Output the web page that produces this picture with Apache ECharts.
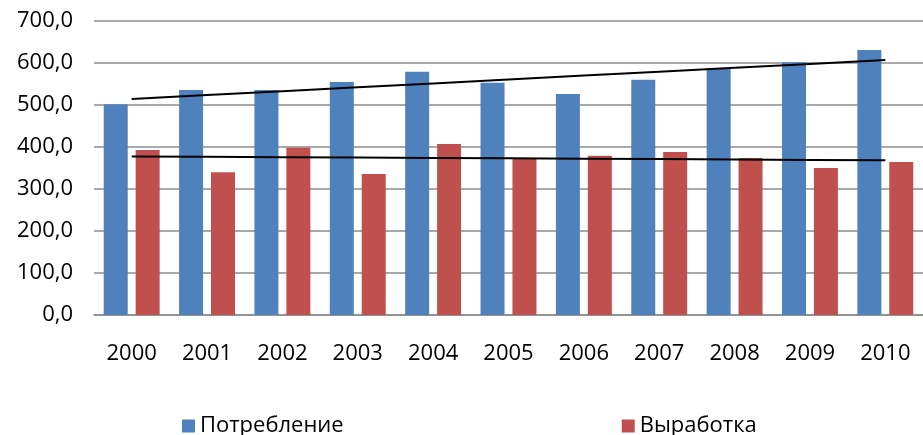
<!DOCTYPE html>
<html>
<head>
<meta charset="utf-8">
<script src="https://cdn.jsdelivr.net/npm/echarts@6/dist/echarts.min.js"></script>
<style>html,body{margin:0;padding:0;background:#fff}#c{width:923px;height:435px}</style>
</head>
<body>
<div id="c"></div>
<script>
const years = ['2000','2001','2002','2003','2004','2005','2006','2007','2008','2009','2010'];
const consumption = [502, 536, 536, 555, 579, 553, 526, 560, 588, 602, 631];
const production = [393, 340, 398, 336, 407, 374, 379, 388, 374, 350, 364];
const yTicks = [0, 100, 200, 300, 400, 500, 600, 700];

// linear (least-squares) trend lines, as in the original chart
function trend(vals) {
  const n = vals.length;
  let sx = 0, sy = 0, sxx = 0, sxy = 0;
  vals.forEach((v, i) => { sx += i; sy += v; sxx += i * i; sxy += i * v; });
  const b = (n * sxy - sx * sy) / (n * sxx - sx * sx);
  const a = (sy - b * sx) / n;
  return vals.map((_, i) => a + b * i);
}

const font = 'Open Sans';
const chart = echarts.init(document.getElementById('c'));
chart.setOption({
  animation: false,
  textStyle: { fontFamily: font },
  grid: { left: 94, right: 0, top: 21, bottom: 120, containLabel: false },
  legend: {
    data: ['Потребление', 'Выработка'],
    left: 177, top: 410,
    icon: 'rect', itemWidth: 13, itemHeight: 13, itemGap: 278,
    textStyle: { fontSize: 22, color: '#000', fontFamily: font }
  },
  xAxis: {
    type: 'category', data: years,
    axisLine: { lineStyle: { color: '#8c8c8c', width: 1.5 } },
    axisTick: { show: false },
    axisLabel: { fontSize: 22, color: '#000', margin: 28, fontFamily: font }
  },
  yAxis: {
    type: 'value', min: yTicks[0], max: yTicks[yTicks.length - 1], interval: 100,
    axisLine: { show: false }, axisTick: { show: false },
    splitLine: { lineStyle: { color: '#8c8c8c', width: 1.5 } },
    axisLabel: { fontSize: 22, color: '#000', margin: 21, fontFamily: font,
      formatter: v => v.toFixed(1).replace('.', ',') }
  },
  series: [
    { name: 'Потребление', type: 'bar', data: consumption, barWidth: 24, barGap: '33%',
      itemStyle: { color: '#4F81BD' } },
    { name: 'Выработка', type: 'bar', data: production, barWidth: 24,
      itemStyle: { color: '#C0504D' } },
    { name: 'trend1', type: 'line', data: trend(consumption), symbol: 'none', z: 5,
      lineStyle: { color: '#000', width: 2 }, silent: true },
    { name: 'trend2', type: 'line', data: trend(production), symbol: 'none', z: 5,
      lineStyle: { color: '#000', width: 2 }, silent: true }
  ]
});
</script>
</body>
</html>
